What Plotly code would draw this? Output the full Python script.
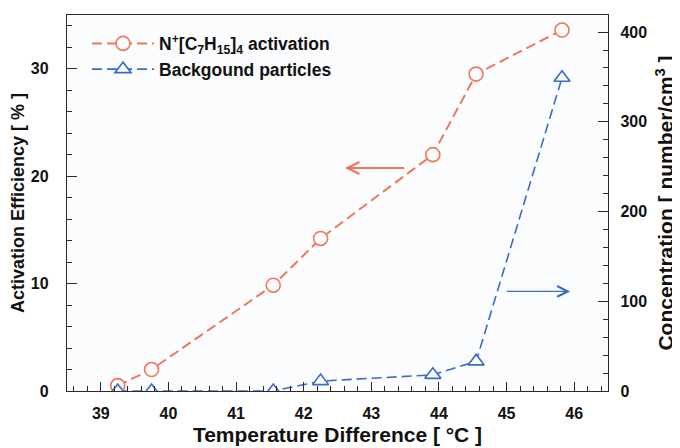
import plotly.graph_objects as go

temp_diff = [39.25, 39.75, 41.55, 42.25, 43.91, 44.55, 45.82]
activation_eff = [0.5, 2.0, 9.85, 14.2, 22.0, 29.5, 33.6]
background_conc = [0, 0, 0, 11, 18, 33, 349]

x_ticks = [39, 40, 41, 42, 43, 44, 45, 46]
y_ticks = [0, 10, 20, 30]
y2_ticks = [0, 100, 200, 300, 400]

RED = "#f2775a"
BLUE = "#3b6cc4"
BG = "#fbfcfe"
AX = "#2a2a2a"
FONT = "Liberation Sans, Arial, sans-serif"

fig = go.Figure()
fig.add_trace(go.Scatter(
    x=temp_diff, y=activation_eff, yaxis="y",
    mode="lines+markers",
    name="<b>N<sup>+</sup>[C<sub>7</sub>H<sub>15</sub>]<sub>4</sub> activation</b>",
    line=dict(color=RED, width=2, dash="10px,5px"),
    marker=dict(symbol="circle", size=14, color=BG, line=dict(color=RED, width=1.6)),
))
fig.add_trace(go.Scatter(
    x=temp_diff, y=background_conc, yaxis="y2",
    mode="lines+markers",
    name="<b>Backgound particles</b>",
    line=dict(color=BLUE, width=1.6, dash="10px,5px"),
    marker=dict(symbol="triangle-up", size=14, color=BG, line=dict(color=BLUE, width=1.6)),
))

fig.add_annotation(x=42.61, y=20.76, ax=43.51, ay=20.76, xref="x", yref="y",
                   axref="x", ayref="y", showarrow=True, arrowhead=5,
                   arrowsize=1.3, arrowwidth=1.8, arrowcolor=RED, text="")
fig.add_annotation(x=45.94, y=111, ax=44.98, ay=111, xref="x", yref="y2",
                   axref="x", ayref="y2", showarrow=True, arrowhead=5,
                   arrowsize=1.5, arrowwidth=1.4, arrowcolor=BLUE, text="")

# The page body has an 8px margin; the figure is sized so the plot area lands
# at the same window position as in the reference.
fig.update_layout(
    width=672, height=440,
    margin=dict(l=59, r=72, t=7, b=57),
    paper_bgcolor="white",
    plot_bgcolor=BG,
    font=dict(family=FONT, size=16, color="#111"),
    showlegend=True,
    legend=dict(x=0.037, y=0.972, xanchor="left", yanchor="top",
                bgcolor="rgba(0,0,0,0)", font=dict(size=17.5, family=FONT),
                itemwidth=62, tracegroupgap=0),
    xaxis=dict(
        range=[38.5, 46.5], tickvals=x_ticks, ticktext=[f"<b>{v}</b>" for v in x_ticks],
        ticks="inside", ticklen=9, tickwidth=1.3, tickcolor=AX,
        minor=dict(dtick=0.2, tick0=39, ticks="inside", ticklen=5, tickcolor=AX, tickwidth=1.2),
        showline=True, linecolor=AX, linewidth=1.4, mirror=True,
        showgrid=False, zeroline=False, ticklabelstandoff=8, automargin=False,
        tickfont=dict(size=16),
        title=dict(text="<b>Temperature Difference [ °C ]</b>", font=dict(size=21), standoff=5),
    ),
    yaxis=dict(
        range=[0, 35],
        tickvals=y_ticks, ticktext=[f"<b>{v}</b>" for v in y_ticks],
        ticks="inside", ticklen=10, tickwidth=1.3, tickcolor=AX,
        minor=dict(dtick=2, tick0=0, ticks="inside", ticklen=5, tickcolor=AX, tickwidth=1.2),
        showline=True, linecolor=AX, linewidth=1.4,
        showgrid=False, zeroline=False, ticklabelstandoff=14, automargin=False,
        tickfont=dict(size=16),
        title=dict(text="<b>Activation Efficiency [ % ]</b>", font=dict(size=18), standoff=7),
    ),
    yaxis2=dict(
        range=[0, 419], overlaying="y", side="right",
        tickvals=y2_ticks, ticktext=[f"<b>{v}</b>" for v in y2_ticks],
        ticks="inside", ticklen=10, tickwidth=1.3, tickcolor=AX,
        minor=dict(dtick=20, tick0=0, ticks="inside", ticklen=5, tickcolor=AX, tickwidth=1.2),
        showline=True, linecolor=AX, linewidth=1.4,
        showgrid=False, zeroline=False, ticklabelstandoff=8, automargin=False,
        tickfont=dict(size=16),
        title=dict(text="<b>Concentration [ number/cm<sup>3</sup> ]</b>", font=dict(size=21), standoff=12),
    ),
)

fig.write_html("out.html")
